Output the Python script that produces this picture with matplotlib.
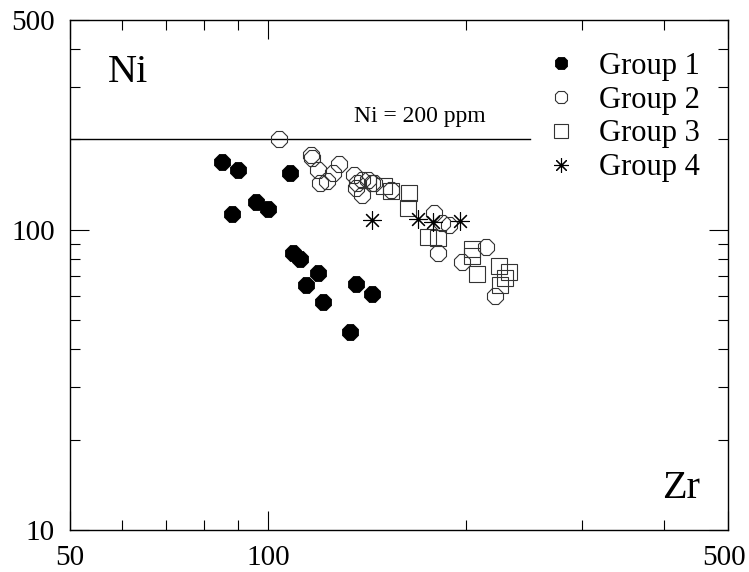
import numpy as np
import matplotlib.pyplot as plt
import matplotlib.transforms as mtransforms
from matplotlib.ticker import FixedLocator, NullFormatter

plt.rcParams['font.family'] = ['Liberation Serif', 'DejaVu Serif']

# Zr (x) and Ni (y) in ppm
g1_zr = [85, 90, 88, 96, 100, 108, 109, 112, 114, 119, 121, 136, 133, 144]
g1_ni = [168, 158, 113, 124, 117, 155, 84, 80, 65.5, 72, 57.5, 66, 45.5, 61]

g2_zr = [104, 116, 116.5, 119, 128, 125.5, 120, 123, 135, 136.5, 139, 142,
         139, 136, 144, 145, 154, 179, 184, 188, 181, 214, 197, 221]
g2_ni = [200, 178, 174, 158, 166, 155, 143, 146, 152, 143, 147, 147,
         131, 138, 143, 143, 136, 114, 105.5, 104, 84, 88, 78, 60]

g3_zr = [150, 154, 164, 163, 175, 181, 204, 204, 208, 224, 232, 229, 225]
g3_ni = [140, 135, 133, 118, 95, 94, 86, 82, 71, 76, 72.4, 69, 65.5]

g4_zr = [144, 169, 178, 196]
g4_ni = [108, 109, 106, 107]

ni_limit = 200

fig = plt.figure(figsize=(7.49, 5.72), dpi=100)
ax = fig.add_axes([0.0935, 0.0734, 0.8785, 0.8916])
ax.set_xscale('log')
ax.set_yscale('log')
ax.set_xlim(50, 500)
ax.set_ylim(10, 500)

ax.plot([50, 250], [ni_limit, ni_limit], color='black', lw=1.0, zorder=1)
ax.text(170, 238, 'Ni = 200 ppm', fontsize=17, ha='center', va='center')

ax.plot(g1_zr, g1_ni, ls='none', marker='8', ms=12.5, mfc='black', mec='black',
        mew=0.6, label='Group 1', zorder=3)
ax.plot(g2_zr, g2_ni, ls='none', marker='8', ms=12.5, mfc='none', mec='#333333',
        mew=0.8, label='Group 2', zorder=3)
ax.plot(g3_zr, g3_ni, ls='none', marker='s', ms=12, mfc='none', mec='#333333',
        mew=0.8, label='Group 3', zorder=3)
ax.plot(g4_zr, g4_ni, ls='none', marker=(8, 2, 0), ms=13, mfc='none', mec='black',
        mew=0.8, label='Group 4', zorder=3)

ax.text(0.058, 0.898, 'Ni', transform=ax.transAxes, fontsize=29, va='center', ha='left')
ax.text(0.957, 0.082, 'Zr', transform=ax.transAxes, fontsize=29, va='center', ha='right')

ax.legend(loc='upper right', bbox_to_anchor=(0.976, 0.962), frameon=False, fontsize=22,
          markerscale=0.8, handletextpad=0.75, labelspacing=0.16, handlelength=1.0,
          borderaxespad=0.0)

ax.xaxis.set_major_locator(FixedLocator([50, 100, 500]))
ax.xaxis.set_minor_locator(FixedLocator([60, 70, 80, 90, 200, 300, 400]))
ax.yaxis.set_major_locator(FixedLocator([10, 100, 500]))
ax.yaxis.set_minor_locator(FixedLocator([20, 30, 40, 50, 60, 70, 80, 90, 200, 300, 400]))
ax.set_xticklabels(['50', '100', '500'])
ax.set_yticklabels(['10', '100', '500'])
ax.xaxis.set_minor_formatter(NullFormatter())
ax.yaxis.set_minor_formatter(NullFormatter())
ax.tick_params(which='both', direction='in', top=True, right=True, labelsize=21, width=0.8)
ax.tick_params(which='major', length=14, pad=11)
ax.tick_params(which='minor', length=7)
for s in ax.spines.values():
    s.set_linewidth(1.0)

# keep the right-most x label inside the picture
last = ax.get_xticklabels()[-1]
last.set_transform(last.get_transform() + mtransforms.ScaledTranslation(-4 / 100, 0, fig.dpi_scale_trans))

fig.savefig('out.png', dpi=100)
